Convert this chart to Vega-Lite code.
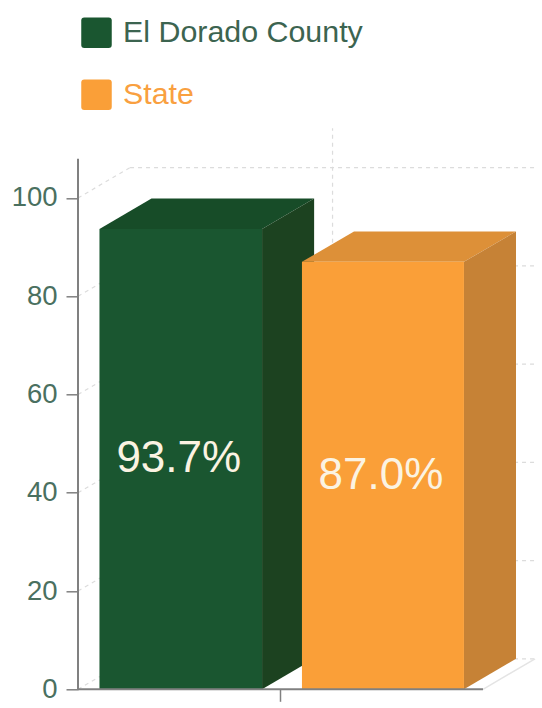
{
"$schema":"https://vega.github.io/schema/vega-lite/v6.json",
"width":464,"height":565,"autosize":"none",
"padding":{"left":78,"top":124.3,"right":0,"bottom":19},
"background":"#ffffff",
"config":{"view":{"stroke":null},"font":"Liberation Sans"},
"datasets":{
"bars":[
{"series":"El Dorado County","value":93.7,"start":0.106,"end":0.909,"label":"93.7%"},
{"series":"State","value":87.0,"start":1.106,"end":1.906,"label":"87.0%"}],
"faces":[
{"part":"El Dorado County top","owner":"El Dorado County","x":0.106,"lo":93.7,"hi":93.7},
{"part":"El Dorado County top","owner":"El Dorado County","x":0.363,"lo":93.7,"hi":99.9},
{"part":"El Dorado County top","owner":"El Dorado County","x":0.909,"lo":93.7,"hi":99.9},
{"part":"El Dorado County top","owner":"El Dorado County","x":1.166,"lo":99.9,"hi":99.9},
{"part":"El Dorado County side","owner":"El Dorado County","x":0.909,"lo":0,"hi":93.7},
{"part":"El Dorado County side","owner":"El Dorado County","x":1.166,"lo":6.2,"hi":99.9},
{"part":"State top","owner":"State","x":1.106,"lo":87,"hi":87},
{"part":"State top","owner":"State","x":1.363,"lo":87,"hi":93.2},
{"part":"State top","owner":"State","x":1.906,"lo":87,"hi":93.2},
{"part":"State top","owner":"State","x":2.163,"lo":93.2,"hi":93.2},
{"part":"State side","owner":"State","x":1.906,"lo":0,"hi":87},
{"part":"State side","owner":"State","x":2.163,"lo":6.2,"hi":93.2}],
"grid":[
{"id":"d0","x":0,"y":0},{"id":"d0","x":0.257,"y":6.2},
{"id":"d20","x":0,"y":20},{"id":"d20","x":0.257,"y":26.2},
{"id":"d40","x":0,"y":40},{"id":"d40","x":0.257,"y":46.2},
{"id":"d60","x":0,"y":60},{"id":"d60","x":0.257,"y":66.2},
{"id":"d80","x":0,"y":80},{"id":"d80","x":0.257,"y":86.2},
{"id":"d100","x":0,"y":100},{"id":"d100","x":0.257,"y":106.2},
{"id":"h0","x":0.257,"y":6.2},{"id":"h0","x":2.257,"y":6.2},
{"id":"h20","x":0.257,"y":26.2},{"id":"h20","x":2.257,"y":26.2},
{"id":"h40","x":0.257,"y":46.2},{"id":"h40","x":2.257,"y":46.2},
{"id":"h60","x":0.257,"y":66.2},{"id":"h60","x":2.257,"y":66.2},
{"id":"h80","x":0.257,"y":86.2},{"id":"h80","x":2.257,"y":86.2},
{"id":"h100","x":0.257,"y":106.2},{"id":"h100","x":2.257,"y":106.2},
{"id":"v1","x":1.257,"y":6.2},{"id":"v1","x":1.257,"y":114.2}],
"floor":[{"id":"f","x":2,"y":0},{"id":"f","x":2.257,"y":6.2}],
"frame":[
{"id":"yaxis","x":0,"y":0},{"id":"yaxis","x":0,"y":108},
{"id":"xaxis","x":0,"y":0},{"id":"xaxis","x":2,"y":0}]
},
"encoding":{
"x":{"type":"quantitative","scale":{"domain":[0,2.2914],"nice":false,"zero":false}},
"y":{"type":"quantitative","scale":{"domain":[0,115],"nice":false}}
},
"layer":[
{"data":{"name":"grid"},
 "mark":{"type":"line","color":"#dcdcdc","strokeWidth":1.2,"strokeDash":[4,4]},
 "encoding":{"detail":{"field":"id"},
  "x":{"field":"x","type":"quantitative","axis":{"title":null,"values":[1],"labels":false,"grid":false,"domain":false,"tickSize":12,"tickColor":"#808080","tickWidth":1.5}},
  "y":{"field":"y","type":"quantitative","axis":{"title":null,"values":[0,20,40,60,80,100],"grid":false,"domain":false,"tickSize":12,"tickColor":"#808080","tickWidth":1.5,"labelFontSize":27.5,"labelColor":"#4a7060","labelPadding":9}}}},
{"data":{"name":"floor"},
 "mark":{"type":"line","color":"#e4e4e4","strokeWidth":1.5},
 "encoding":{"x":{"field":"x","type":"quantitative"},"y":{"field":"y","type":"quantitative"}}},
{"data":{"name":"faces"},"transform":[{"filter":"datum.owner==='El Dorado County'"}],
 "mark":{"type":"area","interpolate":"linear","opacity":1},
 "encoding":{"x":{"field":"x","type":"quantitative"},"y":{"field":"lo","type":"quantitative"},"y2":{"field":"hi"},
  "color":{"field":"part","type":"nominal"}}},
{"data":{"name":"bars"},"transform":[{"filter":"datum.series==='El Dorado County'"}],
 "mark":{"type":"rect"},
 "encoding":{"x":{"field":"start","type":"quantitative"},"x2":{"field":"end"},"y":{"field":"value","type":"quantitative"},"y2":{"datum":0},
  "color":{"field":"series","type":"nominal"}}},
{"data":{"name":"faces"},"transform":[{"filter":"datum.owner==='State'"}],
 "mark":{"type":"area","interpolate":"linear","opacity":1},
 "encoding":{"x":{"field":"x","type":"quantitative"},"y":{"field":"lo","type":"quantitative"},"y2":{"field":"hi"},
  "color":{"field":"part","type":"nominal"}}},
{"data":{"name":"bars"},"transform":[{"filter":"datum.series==='State'"}],
 "mark":{"type":"rect"},
 "encoding":{"x":{"field":"start","type":"quantitative"},"x2":{"field":"end"},"y":{"field":"value","type":"quantitative"},"y2":{"datum":0},
  "color":{"field":"series","type":"nominal","scale":{
    "domain":["El Dorado County","State","El Dorado County top","El Dorado County side","State top","State side"],
    "range":["#1a5630","#fa9f38","#174c28","#1c4220","#dd9038","#c68236"]},
   "legend":{"title":null,"values":["El Dorado County","State"],"orient":"none","legendX":3,"legendY":-107,
    "symbolType":"M-0.8,-1H0.8Q1,-1,1,-0.8V0.8Q1,1,0.8,1H-0.8Q-1,1,-1,0.8V-0.8Q-1,-1,-0.8,-1Z","symbolSize":930,"symbolStrokeWidth":0,"symbolOpacity":1,
    "labelFontSize":30.4,"labelOffset":11,"rowPadding":31,"labelLimit":400,"labelOpacity":1,
    "labelColor":{"expr":"datum.value==='State'?'#f9a040':'#3c6450'"}}}}},
{"data":{"name":"frame"},
 "mark":{"type":"line","color":"#808080","strokeWidth":2},
 "encoding":{"detail":{"field":"id"},"x":{"field":"x","type":"quantitative"},"y":{"field":"y","type":"quantitative"}}},
{"data":{"name":"bars"},"transform":[{"calculate":"(datum.start+datum.end)/2","as":"cx"},{"calculate":"datum.value/2","as":"cy"}],
 "mark":{"type":"text","fontSize":44,"color":"#fbf3e2","baseline":"middle","align":"center","dx":-2},
 "encoding":{"x":{"field":"cx","type":"quantitative"},"y":{"field":"cy","type":"quantitative"},"text":{"field":"label"}}}
]
}
